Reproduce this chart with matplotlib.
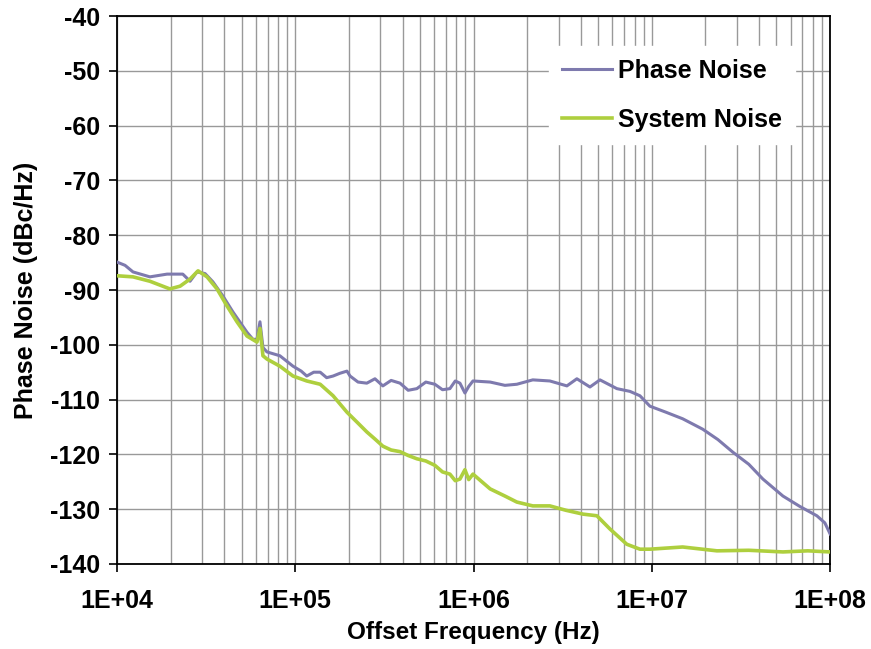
import matplotlib
matplotlib.use('Agg')
import matplotlib.pyplot as plt
from matplotlib.ticker import FixedLocator, LogLocator, NullFormatter

# values (frequency in Hz, noise in dBc/Hz)
phase_freq = [1.00e4, 1.11e4, 1.23e4, 1.53e4, 1.91e4, 2.34e4, 2.57e4, 2.81e4, 3.12e4,
              3.45e4, 3.93e4, 4.47e4, 5.36e4, 5.79e4, 6.10e4, 6.34e4, 6.59e4, 6.94e4,
              8.20e4, 9.71e4, 1.08e5, 1.16e5, 1.27e5, 1.38e5, 1.50e5, 1.63e5, 1.78e5,
              1.95e5, 2.03e5, 2.25e5, 2.52e5, 2.80e5, 3.10e5, 3.45e5, 3.87e5, 4.30e5,
              4.81e5, 5.40e5, 6.07e5, 6.70e5, 7.37e5, 7.90e5, 8.39e5, 8.95e5, 9.40e5,
              9.93e5, 1.24e6, 1.50e6, 1.75e6, 2.15e6, 2.68e6, 3.34e6, 3.80e6, 4.50e6,
              5.12e6, 6.37e6, 7.54e6, 8.58e6, 9.76e6, 1.20e7, 1.49e7, 1.93e7, 2.35e7,
              2.85e7, 3.50e7, 4.20e7, 5.44e7, 6.77e7, 8.43e7, 9.35e7, 1.00e8]
phase_db = [-84.9, -85.5, -86.7, -87.6, -87.1, -87.1, -88.4, -86.7, -87.0,
            -88.5, -91.1, -94.0, -97.7, -99.0, -99.0, -95.8, -100.5, -101.3,
            -102.0, -103.9, -104.8, -105.7, -105.0, -105.0, -106.0, -105.7, -105.2,
            -104.8, -105.7, -106.8, -107.0, -106.2, -107.5, -106.5, -107.0, -108.3,
            -108.0, -106.8, -107.2, -108.2, -108.0, -106.6, -107.0, -108.8, -107.6,
            -106.6, -106.8, -107.4, -107.2, -106.4, -106.6, -107.5, -106.2, -107.7,
            -106.4, -108.0, -108.5, -109.3, -111.2, -112.3, -113.5, -115.4, -117.3,
            -119.6, -121.8, -124.5, -127.6, -129.5, -131.2, -132.5, -134.5]

system_freq = [1.00e4, 1.23e4, 1.53e4, 1.98e4, 2.26e4, 2.57e4, 2.85e4, 3.20e4, 3.64e4,
               4.14e4, 4.71e4, 5.36e4, 6.10e4, 6.34e4, 6.59e4, 6.94e4, 8.20e4, 9.71e4,
               1.16e5, 1.38e5, 1.63e5, 1.95e5, 2.25e5, 2.52e5, 2.80e5, 3.10e5, 3.45e5,
               3.87e5, 4.30e5, 4.81e5, 5.40e5, 6.07e5, 6.70e5, 7.37e5, 7.90e5, 8.39e5,
               8.95e5, 9.40e5, 9.93e5, 1.24e6, 1.50e6, 1.75e6, 2.15e6, 2.68e6, 3.30e6,
               4.11e6, 4.92e6, 5.82e6, 7.24e6, 8.58e6, 9.76e6, 1.49e7, 2.32e7, 3.50e7,
               5.44e7, 7.50e7, 1.00e8]
system_db = [-87.4, -87.6, -88.4, -89.8, -89.3, -88.0, -86.5, -87.6, -89.8,
             -92.9, -95.8, -98.4, -99.5, -97.0, -102.0, -102.6, -103.9, -105.7,
             -106.6, -107.2, -109.3, -112.3, -114.3, -115.9, -117.2, -118.5, -119.2,
             -119.5, -120.2, -120.8, -121.2, -122.0, -123.2, -123.6, -124.8, -124.5,
             -122.8, -124.6, -123.6, -126.3, -127.6, -128.7, -129.4, -129.4, -130.2,
             -130.9, -131.2, -133.6, -136.4, -137.3, -137.3, -136.9, -137.6, -137.5,
             -137.8, -137.6, -137.8]

x_ticks = [1e4, 1e5, 1e6, 1e7, 1e8]
x_tick_labels = ['1E+04', '1E+05', '1E+06', '1E+07', '1E+08']
y_ticks = list(range(-140, -39, 10))

plt.rcParams['font.family'] = ['Liberation Sans', 'DejaVu Sans']
plt.rcParams['font.weight'] = 'bold'
plt.rcParams['axes.unicode_minus'] = False

fig = plt.figure(figsize=(8.71, 6.49), dpi=100)
ax = fig.add_axes([0.1343, 0.131, 0.8187, 0.8443])

ax.plot(phase_freq, phase_db, color='#7E7AAE', lw=2.2, label='Phase Noise', zorder=3)
ax.plot(system_freq, system_db, color='#AECF3E', lw=2.6, label='System Noise', zorder=3)

ax.set_xscale('log')
ax.set_xlim(1e4, 1e8)
ax.set_ylim(-140, -40)
ax.xaxis.set_major_locator(FixedLocator(x_ticks))
ax.set_xticklabels(x_tick_labels)
ax.xaxis.set_minor_locator(LogLocator(base=10, subs=range(2, 10)))
ax.xaxis.set_minor_formatter(NullFormatter())
ax.set_yticks(y_ticks)

ax.grid(which='major', color='#999999', lw=1)
ax.grid(which='minor', axis='x', color='#999999', lw=1)
ax.set_axisbelow(True)

ax.tick_params(which='major', direction='out', length=6, width=1.2, labelsize=18, color='black')
ax.tick_params(axis='x', pad=12)
ax.tick_params(axis='y', pad=6)
ax.tick_params(which='minor', length=0)
for s in ax.spines.values():
    s.set_color('black')
    s.set_linewidth(1.3)

ax.set_xlabel('Offset Frequency (Hz)', fontsize=17.5, fontweight='bold', labelpad=6)
ax.set_ylabel('Phase Noise (dBc/Hz)', fontsize=18, fontweight='bold', labelpad=9)

leg = ax.legend(loc='upper right', bbox_to_anchor=(0.968, 0.968), fontsize=18,
                handlelength=2.0, labelspacing=1.0, handletextpad=0.25,
                frameon=True, fancybox=False, borderpad=0.5)
leg.get_frame().set_facecolor('white')
leg.get_frame().set_edgecolor('white')
leg.get_frame().set_alpha(1)

fig.savefig('out.png', dpi=100)
